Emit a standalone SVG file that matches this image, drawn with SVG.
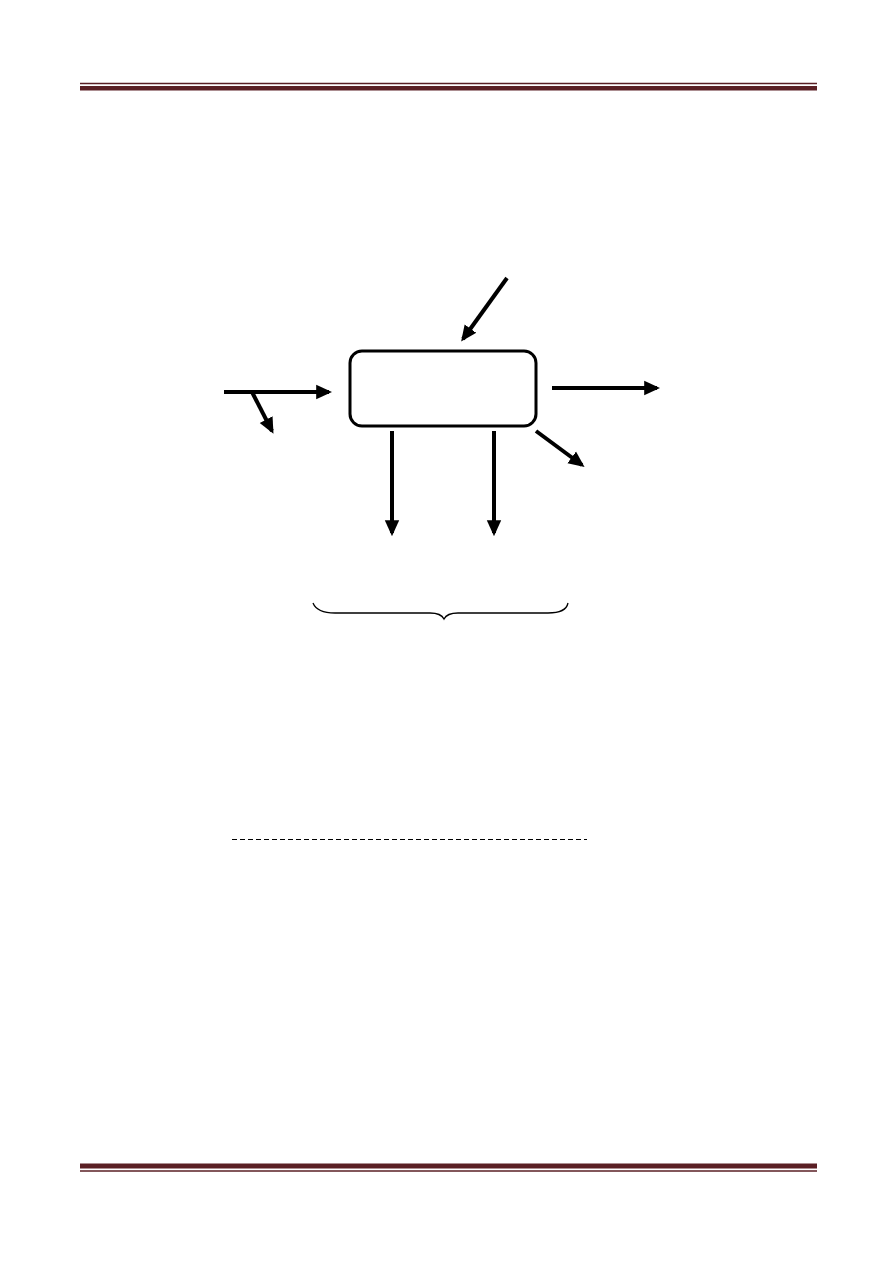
<svg xmlns="http://www.w3.org/2000/svg" width="893" height="1263" viewBox="0 0 893 1263">
<style>
.band{fill:#5a1f24}
.thin{stroke:#5a1f24;stroke-width:1.3}
.arr{stroke:#000;stroke-width:4;fill:none}
.box{fill:#fff;stroke:#000;stroke-width:3}
</style>
<defs>
<marker id="ah" markerWidth="4" markerHeight="4" refX="3.2" refY="2" orient="auto" markerUnits="strokeWidth" viewBox="0 0 4 4">
<path d="M0,0.2 L4,2 L0,3.8 Z" fill="#000"/>
</marker>
</defs>
<rect width="893" height="1263" fill="#fff"/>
<g id="header">
<line class="thin" x1="80" y1="83.5" x2="817" y2="83.5"/>
<rect class="band" x="80" y="86" width="737" height="4.5"/>
</g>
<g id="footer">
<rect class="band" x="80" y="1163.5" width="737" height="5"/>
<line class="thin" x1="80" y1="1171" x2="817" y2="1171"/>
</g>
<g id="process">
<rect class="box" x="350" y="351" width="186" height="75" rx="12" ry="12"/>
</g>
<g id="connectors">
<line class="arr" x1="507" y1="278" x2="463" y2="339" marker-end="url(#ah)"/>
<line class="arr" x1="224" y1="392" x2="329" y2="392" marker-end="url(#ah)"/>
<line class="arr" x1="252" y1="392" x2="272" y2="431" marker-end="url(#ah)"/>
<line class="arr" x1="552" y1="388" x2="657" y2="388" marker-end="url(#ah)"/>
<line class="arr" x1="536" y1="431" x2="582" y2="465" marker-end="url(#ah)"/>
<line class="arr" x1="392" y1="431" x2="392" y2="533" marker-end="url(#ah)"/>
<line class="arr" x1="494" y1="431" x2="494" y2="533" marker-end="url(#ah)"/>
</g>
<g id="brace">
<path d="M313,603 Q317,613 335,613 L430,613 Q441,613 444,619 Q447,613 458,613 L548,613 Q566,613 568,603" fill="none" stroke="#000" stroke-width="1.3"/>
</g>
<g id="dashed">
<line x1="232" y1="839.5" x2="587" y2="839.5" stroke="#000" stroke-width="1" stroke-dasharray="5,3"/>
</g>
</svg>
